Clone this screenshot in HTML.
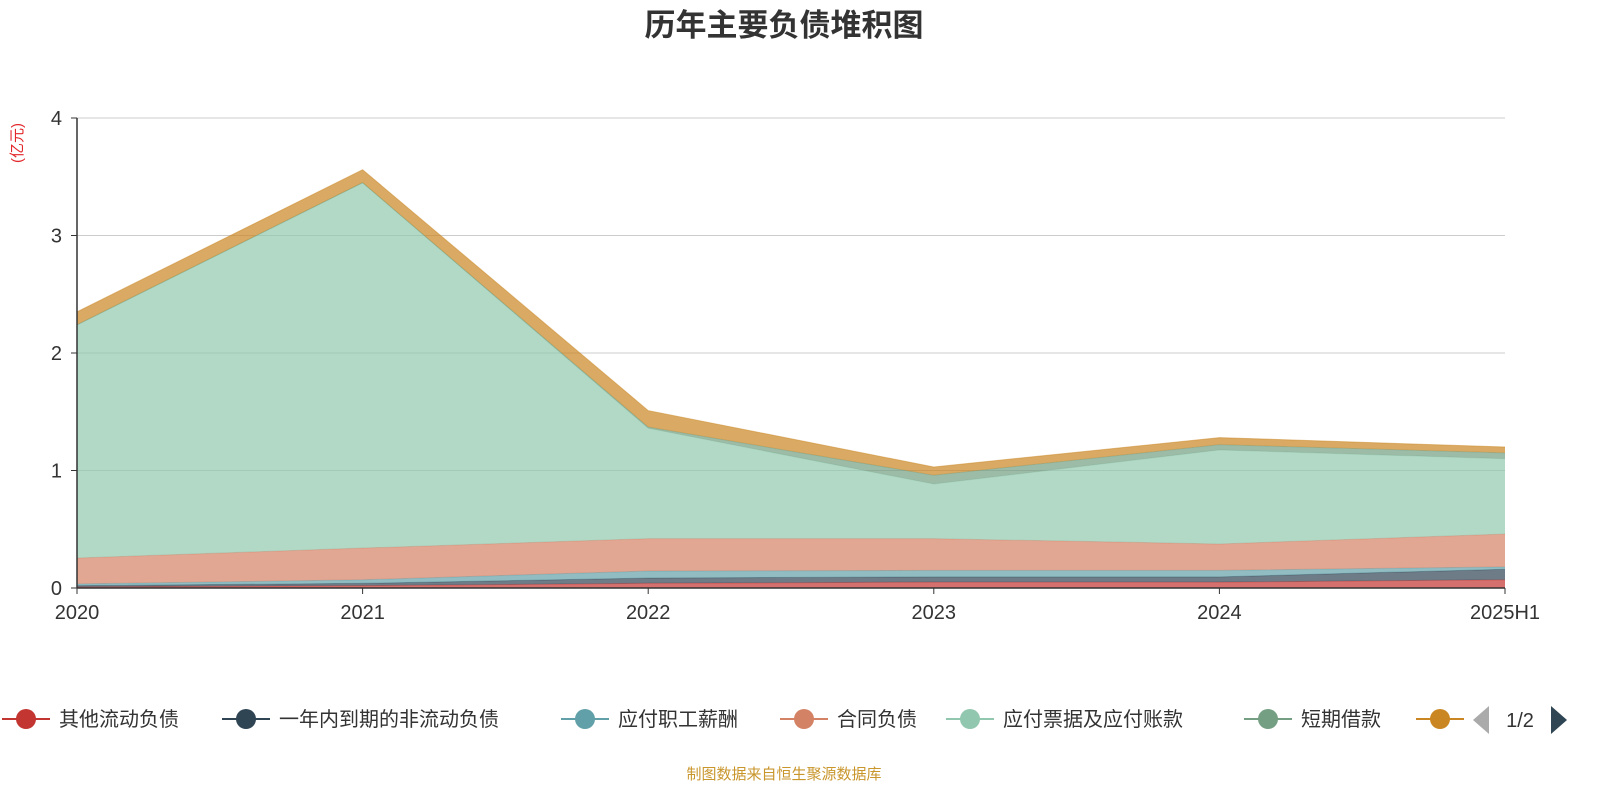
<!DOCTYPE html>
<html><head><meta charset="utf-8"><style>
body{margin:0;background:#fff;width:1600px;height:800px;overflow:hidden;font-family:"Liberation Sans","Noto Sans CJK SC",sans-serif}
</style></head><body>
<svg id="c" width="1600" height="800" xmlns="http://www.w3.org/2000/svg" font-family="Liberation Sans, Noto Sans CJK SC, sans-serif">
<text x="784" y="36" text-anchor="middle" font-size="31" font-weight="bold" fill="#333">历年主要负债堆积图</text>
<text transform="translate(22,143) rotate(-90)" text-anchor="middle" font-size="15" fill="#e3262a">(亿元)</text>
<g id="grid"></g><g id="areas"></g><g id="axes"></g><g id="legend"></g>
<text x="784" y="779" text-anchor="middle" font-size="15" fill="#c9962c">制图数据来自恒生聚源数据库</text>
</svg>
<script>
const categories=["2020","2021","2022","2023","2024","2025H1"];
const seriesNames=["其他流动负债","一年内到期的非流动负债","应付职工薪酬","合同负债","应付票据及应付账款","短期借款","其他"];
const s1=[0.01,0.02,0.04,0.05,0.05,0.07];
const s2=[0.01,0.02,0.045,0.045,0.045,0.09];
const s3=[0.015,0.03,0.06,0.055,0.055,0.02];
const s4=[0.22,0.27,0.275,0.27,0.225,0.28];
const s5=[1.985,3.11,0.94,0.465,0.8,0.64];
const s6=[0,0,0.01,0.075,0.045,0.05];
const s7=[0.11,0.11,0.14,0.07,0.06,0.05];
const yTicks=[0,1,2,3,4];
const colors=["#c23531","#2f4554","#61a0a8","#d48265","#91c7ae","#749f83","#ca8622"];
const series=[s1,s2,s3,s4,s5,s6,s7];
const X=i=>77+i*(1505-77)/(categories.length-1);
const Y=v=>588-v*117.5;
const NS="http://www.w3.org/2000/svg";
function mk(t,a,p){const e=document.createElementNS(NS,t);for(const k in a)e.setAttribute(k,a[k]);p.appendChild(e);return e;}
const grid=document.getElementById('grid'),axes=document.getElementById('axes'),areas=document.getElementById('areas'),lg=document.getElementById('legend');
yTicks.forEach(v=>{
 if(v>0){const l=mk('line',{x1:77,x2:1505,y1:Y(v),y2:Y(v),stroke:'#ccc','stroke-width':1},grid);
 }
 const t=mk('text',{x:62,y:Y(v)+7,'text-anchor':'end','font-size':20,fill:'#333'},axes);t.textContent=v;
 
});
let base=categories.map(()=>0);
series.forEach((s,k)=>{
 const top=base.map((b,i)=>b+s[i]);
 let d='M'+top.map((v,i)=>X(i)+','+Y(v)).join('L');
 for(let i=base.length-1;i>=0;i--)d+='L'+X(i)+','+Y(base[i]);
 const p=mk('path',{d:d+'Z',fill:colors[k],'fill-opacity':0.7},areas);
 
 const ln=mk('polyline',{points:top.map((v,i)=>X(i)+','+Y(v)).join(' '),fill:'none',stroke:colors[k],'stroke-opacity':0.5,'stroke-width':1},areas);
 
 base=top;
});
const ax=mk('line',{x1:77,x2:1505,y1:588,y2:588,stroke:'#333','stroke-width':1.5},axes);

const ay=mk('line',{x1:77,x2:77,y1:118,y2:588,stroke:'#333','stroke-width':1.5},axes);

yTicks.forEach(v=>{const t=mk('line',{x1:71,x2:77,y1:Y(v),y2:Y(v),stroke:'#333'},axes);});
categories.forEach((c,i)=>{
 const t=mk('text',{x:X(i),y:619,'text-anchor':'middle','font-size':20,fill:'#333'},axes);t.textContent=c;
 
 const tk=mk('line',{x1:X(i),x2:X(i),y1:588,y2:594,stroke:'#333'},axes);
});
const lx=[26,246,585,804,970,1268,1440];
const labels=["其他流动负债","一年内到期的非流动负债","应付职工薪酬","合同负债","应付票据及应付账款","短期借款",""];
lx.forEach((x,k)=>{
 const g=mk('g',{},lg);
 mk('line',{x1:x-24,x2:x+24,y1:719,y2:719,stroke:colors[k],'stroke-width':2},g);
 mk('circle',{cx:x,cy:719,r:10,fill:colors[k]},g);
 if(labels[k]){const t=mk('text',{x:x+33,y:726,'font-size':20,fill:'#333'},g);t.textContent=labels[k];}
});
const pl=mk('path',{d:'M1489,706L1489,734L1473,720Z',fill:'#aaa'},lg);
const pt=mk('text',{x:1520,y:727,'text-anchor':'middle','font-size':20,fill:'#333'},lg);pt.textContent='1/2';
const pn=mk('path',{d:'M1551,706L1551,734L1567,720Z',fill:'#2f4554'},lg);
</script>
</body></html>
